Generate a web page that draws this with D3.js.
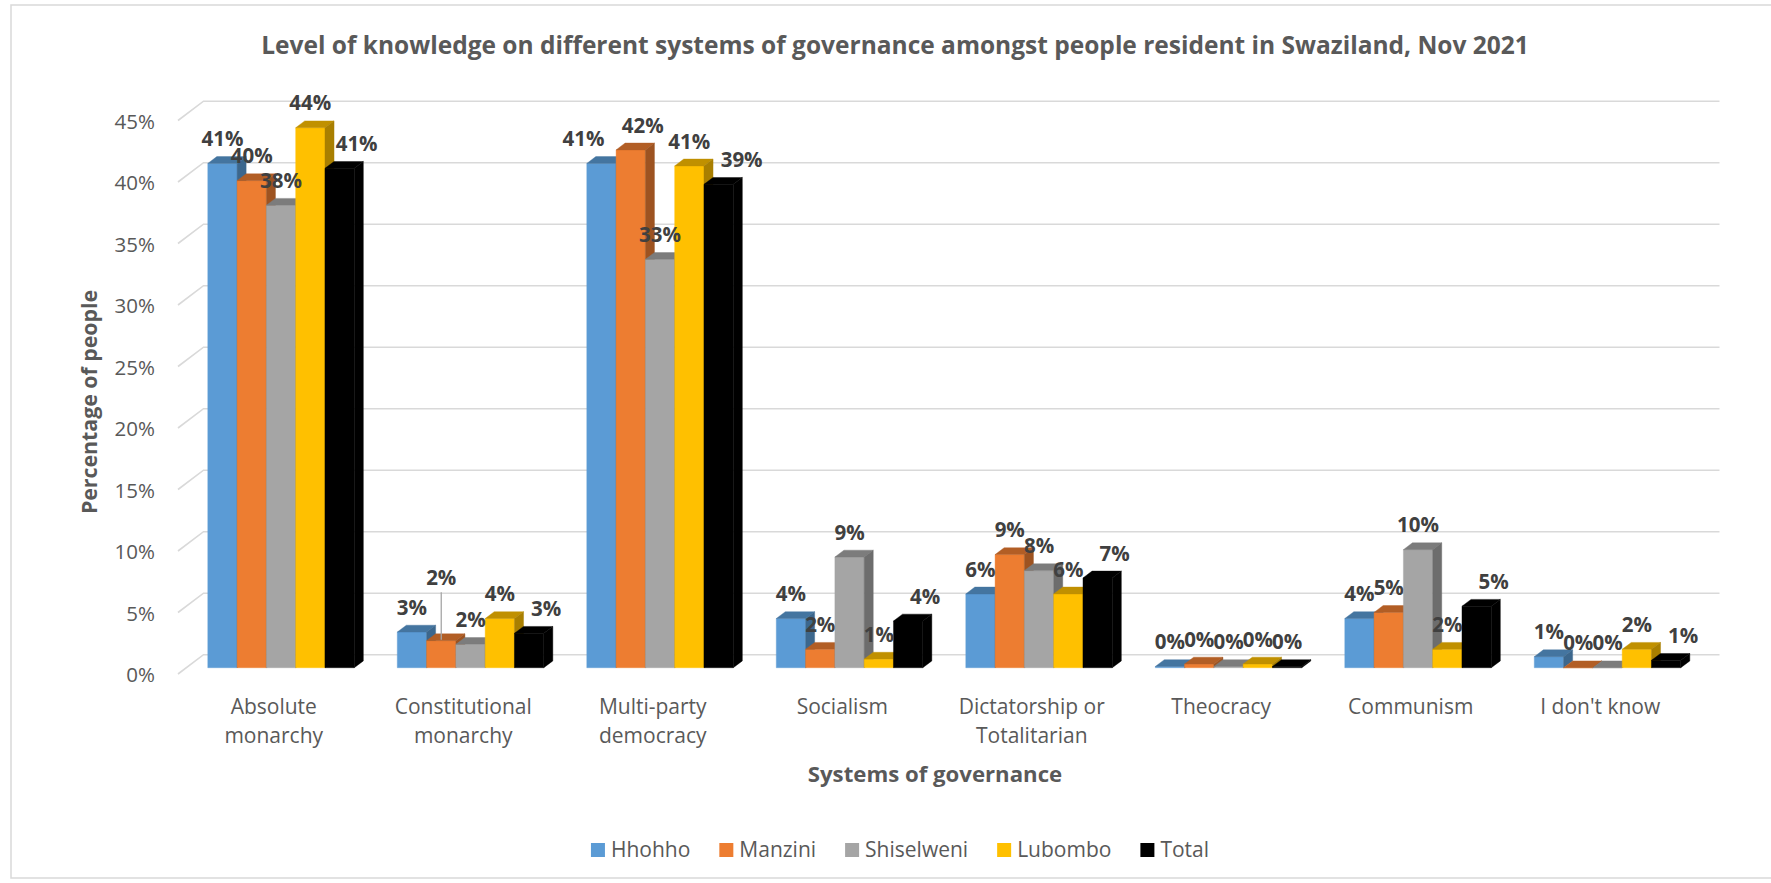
<!DOCTYPE html>
<html>
<head>
<meta charset="utf-8">
<script src="https://cdn.jsdelivr.net/npm/d3@7"></script>
<style>
  body { margin: 0; background: #fff; }
  svg { display: block; }
  text { font-family: "Open Sans", "Noto Sans", sans-serif; }
</style>
</head>
<body>
<svg id="chart" width="1771" height="883"></svg>
<script>
// ---- data -------------------------------------------------------------
const categories = [
  "Absolute monarchy", "Constitutional monarchy", "Multi-party democracy",
  "Socialism", "Dictatorship or Totalitarian", "Theocracy", "Communism", "I don't know"
];
const series = ["Hhohho", "Manzini", "Shiselweni", "Lubombo", "Total"];

// percentage of people per system of governance
const hhohho     = [41.0, 2.9, 41.0, 4.0, 6.0, 0.1, 4.0, 0.9];
const manzini    = [39.6, 2.2, 42.1, 1.5, 9.2, 0.3, 4.5, 0.0];
const shiselweni = [37.6, 1.9, 33.2, 9.0, 7.9, 0.1, 9.6, 0.0];
const lubombo    = [43.9, 4.0, 40.8, 0.7, 6.0, 0.3, 1.5, 1.5];
const total      = [40.6, 2.8, 39.3, 3.8, 7.3, 0.1, 5.0, 0.6];

const yTicks = [0, 5, 10, 15, 20, 25, 30, 35, 40, 45];

const seriesValues = {
  Hhohho: hhohho, Manzini: manzini, Shiselweni: shiselweni, Lubombo: lubombo, Total: total
};
const seriesColors = {
  Hhohho: "#5b9bd5", Manzini: "#ed7d31", Shiselweni: "#a5a5a5", Lubombo: "#ffc000", Total: "#000000"
};

// ---- layout -----------------------------------------------------------
const svg = d3.select("#chart");
const textGrey = "#595959";
const gridGrey = "#d9d9d9";

// chart frame
svg.append("rect")
  .attr("x", 11).attr("y", 5)
  .attr("width", 1800).attr("height", 873)
  .attr("fill", "#fff").attr("stroke", gridGrey).attr("stroke-width", 1.5);

// front plane of the 3-D box; the back wall is offset by (DX, DY)
const plotLeft = 178, plotRight = 1694;
const DX = 25.5, DY = -19.3;
const F_FRONT = 0.325, F_BACK = 0.68;   // depth of the columns inside the box

const x0 = d3.scaleBand().domain(categories)
  .range([plotLeft, plotRight]).paddingInner(0.227).paddingOuter(0.1135);
const x1 = d3.scaleBand().domain(series).range([0, x0.bandwidth()]);
const y = d3.scaleLinear().domain([0, 45]).range([674, 120.5]);

const proj = (xw, v, f) => [xw + DX * f, y(v) + DY * f];
const poly = pts => pts.map(p => p.join(",")).join(" ");

// ---- back wall gridlines and left-wall diagonals ------------------------
const grid = svg.append("g").attr("stroke", gridGrey).attr("stroke-width", 1.6).attr("fill", "none");
yTicks.forEach(t => {
  const a = proj(plotLeft, t, 0), b = proj(plotLeft, t, 1), c = proj(plotRight, t, 1);
  grid.append("polyline").attr("points", poly([a, b, c]));
});

// y tick labels
svg.append("g").selectAll("text").data(yTicks).join("text")
  .attr("x", 155).attr("y", d => y(d) + 1).attr("dy", "0.35em")
  .attr("text-anchor", "end").attr("fill", textGrey)
  .style("font-size", "20.5px")
  .text(d => d + "%");

// ---- 3-D columns -------------------------------------------------------
const bars = svg.append("g");
const labelData = [];
categories.forEach((cat, i) => {
  series.forEach(s => {
    const v = seriesValues[s][i];
    const xl = x0(cat) + x1(s), xr = xl + x1.bandwidth();
    const base = d3.color(seriesColors[s]);
    const topC = base.darker(0.8).formatHex();
    const sideC = base.darker(1.15).formatHex();
    const g = bars.append("g");
    g.append("polygon")
      .attr("points", poly([proj(xl, 0, F_FRONT), proj(xr, 0, F_FRONT), proj(xr, v, F_FRONT), proj(xl, v, F_FRONT)]))
      .attr("fill", base.formatHex()).attr("stroke", base.formatHex()).attr("stroke-width", 0.4);
    g.append("polygon")
      .attr("points", poly([proj(xl, v, F_FRONT), proj(xr, v, F_FRONT), proj(xr, v, F_BACK), proj(xl, v, F_BACK)]))
      .attr("fill", topC).attr("stroke", topC).attr("stroke-width", 0.4);
    g.append("polygon")
      .attr("points", poly([proj(xr, 0, F_FRONT), proj(xr, v, F_FRONT), proj(xr, v, F_BACK), proj(xr, 0, F_BACK)]))
      .attr("fill", sideC).attr("stroke", sideC).attr("stroke-width", 0.4);
    const [cx, ty] = proj((xl + xr) / 2, v, F_FRONT);
    labelData.push({ cat, s, v, cx, ty });
  });
});

// ---- data labels -------------------------------------------------------
// hand-moved labels that would otherwise collide
const labelNudge = {
  "Multi-party democracy|Hhohho": -18,
  "Multi-party democracy|Manzini": 12,
  "Multi-party democracy|Total": 6
};
const labels = svg.append("g");
labelData.forEach(d => {
  const lifted = d.cat === "Constitutional monarchy" && d.s === "Manzini";
  // labels of the Total column sit slightly to the right of the column
  const lx = d.cx + (d.s === "Total" && d.v >= 0.5 ? 17 : 0) + (labelNudge[d.cat + "|" + d.s] || 0);
  const ly = d.ty - 24.5 - (lifted ? 38 : 0);
  if (lifted) {
    labels.append("line")
      .attr("x1", d.cx).attr("x2", d.cx)
      .attr("y1", ly + 14).attr("y2", d.ty - 1)
      .attr("stroke", "#a6a6a6").attr("stroke-width", 1.3);
  }
  labels.append("text")
    .attr("x", lx).attr("y", ly).attr("dy", "0.35em")
    .attr("text-anchor", "middle").attr("fill", "#404040")
    .style("font-size", "20.5px").style("font-weight", 700)
    .text(Math.round(d.v) + "%");
});

// ---- category labels (wrapped) ------------------------------------------
const catG = svg.append("g");
categories.forEach(cat => {
  const t = catG.append("text")
    .attr("text-anchor", "middle").attr("fill", textGrey)
    .style("font-size", "21px");
  const center = x0(cat) + x0.bandwidth() / 2 + 1;
  const words = cat.split(" ");
  const lines = [];
  let cur = [];
  const probe = catG.append("text").style("font-size", "21px");
  words.forEach(w => {
    const trial = cur.concat(w).join(" ");
    probe.text(trial);
    if (cur.length && probe.node().getComputedTextLength() > 160) {
      lines.push(cur.join(" "));
      cur = [w];
    } else {
      cur.push(w);
    }
  });
  lines.push(cur.join(" "));
  probe.remove();
  lines.forEach((ln, k) => {
    t.append("tspan").attr("x", center).attr("y", 707 + k * 28.5).attr("dy", "0.35em").text(ln);
  });
});

// ---- axis titles -------------------------------------------------------
svg.append("text")
  .attr("x", 935).attr("y", 774).attr("dy", "0.35em")
  .attr("text-anchor", "middle").attr("fill", textGrey)
  .style("font-size", "22.2px").style("font-weight", 700)
  .text("Systems of governance");

svg.append("text")
  .attr("transform", "translate(90,402) rotate(-90)")
  .attr("dy", "0.35em")
  .attr("text-anchor", "middle").attr("fill", textGrey)
  .style("font-size", "21.3px").style("font-weight", 700)
  .text("Percentage of people");

// ---- title -------------------------------------------------------------
svg.append("text")
  .attr("x", 895).attr("y", 45).attr("dy", "0.35em")
  .attr("text-anchor", "middle").attr("fill", textGrey)
  .style("font-size", "24.5px").style("font-weight", 700)
  .text("Level of knowledge on different systems of governance amongst people resident in Swaziland, Nov 2021");

// ---- legend ------------------------------------------------------------
const legend = svg.append("g");
const sq = 14, gapText = 6, gapItem = 29;
const items = series.map(s => {
  const t = legend.append("text")
    .attr("fill", textGrey).attr("dy", "0.35em")
    .style("font-size", "21px").text(s);
  return { s, t, w: t.node().getComputedTextLength() };
});
const totalW = d3.sum(items, d => sq + gapText + d.w) + gapItem * (items.length - 1);
let lx = 900 - totalW / 2;
const legY = 850;
items.forEach(d => {
  legend.append("rect")
    .attr("x", lx).attr("y", legY - sq / 2).attr("width", sq).attr("height", sq)
    .attr("fill", seriesColors[d.s]);
  d.t.attr("x", lx + sq + gapText).attr("y", legY);
  lx += sq + gapText + d.w + gapItem;
});
</script>
</body>
</html>
